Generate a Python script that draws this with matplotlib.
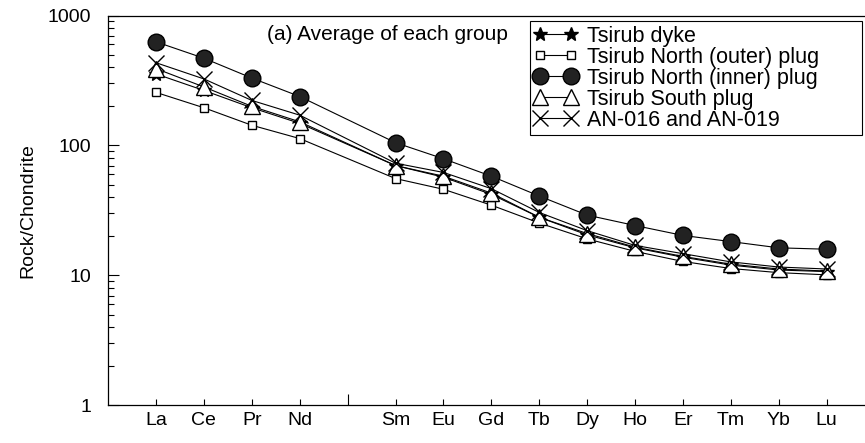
import numpy as np
import matplotlib.pyplot as plt
from matplotlib.ticker import LogLocator, NullFormatter, FixedLocator

plt.rcParams['font.family'] = ['Liberation Sans', 'DejaVu Sans']

# REE labels and x positions (Pm slot left empty)
elements = ["La", "Ce", "Pr", "Nd", "Sm", "Eu", "Gd", "Tb", "Dy", "Ho", "Er", "Tm", "Yb", "Lu"]
xpos = [1, 2, 3, 4, 6, 7, 8, 9, 10, 11, 12, 13, 14, 15]

# chondrite-normalised averages
dyke = [355, 265, 195, 148, 70, 57, 42, 28, 20.5, 16.3, 13.8, 12.0, 11.0, 10.7]
north_outer = [256, 195, 143, 113, 55.6, 46, 34.7, 25.3, 19.1, 15.3, 12.8, 11.3, 10.5, 10.1]
north_inner = [627, 469, 330, 238, 105, 79, 58, 40.8, 29.1, 24.2, 20.3, 18.2, 16.3, 15.9]
south = [390, 282, 200, 152, 70, 58, 43, 28, 21, 16.5, 14.0, 12.2, 11.2, 10.8]
an016_019 = [433, 325, 222, 171, 73, 62, 46.5, 30.5, 22.1, 17.0, 14.7, 12.7, 11.6, 11.2]

fig = plt.figure(figsize=(8.65, 4.43), dpi=100)
ax = fig.add_axes([0.125, 0.085, 0.875, 0.88])

lw = 0.8
ax.plot(xpos, dyke, color="black", lw=lw, marker="*", ms=10, mfc="black", mec="black",
        label="Tsirub dyke")
ax.plot(xpos, north_outer, color="black", lw=lw, marker="s", ms=6, mfc="white", mec="black",
        mew=1.0, label="Tsirub North (outer) plug")
ax.plot(xpos, north_inner, color="black", lw=lw, marker="o", ms=12, mfc="#222222", mec="black",
        label="Tsirub North (inner) plug")
ax.plot(xpos, south, color="black", lw=lw, marker="^", ms=11, mfc="white", mec="black",
        mew=1.0, label="Tsirub South plug")
ax.plot(xpos, an016_019, color="black", lw=lw, marker="x", ms=11, mec="black",
        mew=1.0, label="AN-016 and AN-019")

ax.set_yscale("log")
ax.set_ylim(1, 1000)
ax.set_xlim(0, 15.8)
ax.yaxis.set_major_locator(FixedLocator([1, 10, 100, 1000]))
ax.set_yticklabels(["1", "10", "100", "1000"])
ax.yaxis.set_minor_locator(LogLocator(base=10, subs=np.arange(2, 10)))
ax.yaxis.set_minor_formatter(NullFormatter())

ax.set_xticks(xpos)
ax.set_xticklabels(elements)
ax.set_xticks([5, 10, 15], minor=True)

ax.tick_params(axis="y", which="major", direction="in", length=8, width=0.8, pad=12, labelsize=14)
ax.tick_params(axis="y", which="minor", direction="in", length=4, width=0.8)
ax.tick_params(axis="x", which="major", direction="in", length=4, width=0.8, pad=5, labelsize=14)
ax.tick_params(axis="x", which="minor", direction="in", length=8, width=0.8)

ax.spines["right"].set_visible(False)
for s in ["left", "top", "bottom"]:
    ax.spines[s].set_linewidth(0.9)

ax.set_ylabel("Rock/Chondrite", fontsize=14, labelpad=8)

ax.text(0.21, 0.975, "(a) Average of each group", transform=ax.transAxes,
        fontsize=15, va="top", ha="left")

# legend box stretched to the right edge like the original
leg = ax.legend(loc="upper left", bbox_to_anchor=(0.557, 0.0, 0.4386, 0.985), mode="expand",
                fontsize=15.5, numpoints=2, handlelength=2.0, handletextpad=0.45,
                labelspacing=0.0, borderpad=0.2, borderaxespad=0, fancybox=False,
                framealpha=1)
leg.get_frame().set_edgecolor("black")
leg.get_frame().set_linewidth(0.8)

fig.savefig("out.png", dpi=100)
